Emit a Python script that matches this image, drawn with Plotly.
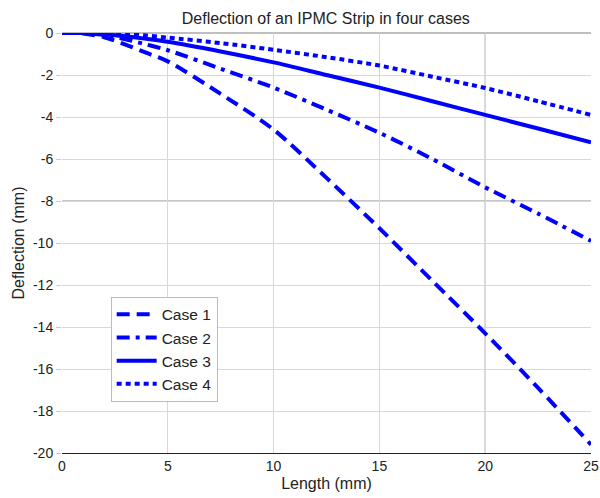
import plotly.graph_objects as go

length_mm = [0, 1, 2, 3, 4, 5, 7.5, 10, 12.5, 15, 17.5, 20, 22.5, 25]
case1 = [0, -0.02, -0.2, -0.55, -0.95, -1.35, -2.9, -4.6, -6.9, -9.3, -11.8, -14.3, -16.9, -19.6]
case2 = [0, 0, -0.1, -0.3, -0.55, -0.82, -1.7, -2.6, -3.65, -4.75, -6.0, -7.35, -8.6, -9.9]
case3 = [0, 0, -0.06, -0.16, -0.28, -0.42, -0.88, -1.4, -2.0, -2.6, -3.25, -3.9, -4.55, -5.2]
case4 = [0, 0, -0.02, -0.06, -0.12, -0.22, -0.48, -0.8, -1.15, -1.55, -2.08, -2.62, -3.25, -3.9]

series_names = ["Case 1", "Case 2", "Case 3", "Case 4"]
x_ticks = [0, 5, 10, 15, 20, 25]
y_ticks = [0, -2, -4, -6, -8, -10, -12, -14, -16, -18, -20]
dark_x = [20]
dark_y = [-8]

dashes = ["13px,7px", "13px,6px,4px,6px", "solid", "5px,4px"]

fig = go.Figure()
for name, ys, d in zip(series_names, [case1, case2, case3, case4], dashes):
    fig.add_trace(go.Scatter(
        x=length_mm, y=ys, name=name, mode="lines",
        line=dict(color="#0000ff", width=4, dash=d, shape="spline", smoothing=0.8),
    ))

for xv in dark_x:
    fig.add_shape(type="line", xref="x", yref="y", x0=xv, x1=xv, y0=-20, y1=0,
                  line=dict(color="#8c8c8c", width=1), layer="below")
for yv in dark_y:
    fig.add_shape(type="line", xref="x", yref="y", x0=0, x1=25, y0=yv, y1=yv,
                  line=dict(color="#8c8c8c", width=1), layer="below")

font_family = "Liberation Sans, Arial, sans-serif"
fig.update_layout(
    width=600, height=498,
    margin=dict(l=62, r=9, t=33, b=45),
    paper_bgcolor="white", plot_bgcolor="white",
    font=dict(family=font_family, size=14, color="#222"),
    title=dict(text="Deflection of an IPMC Strip in four cases", x=0.543, xanchor="center",
               y=0.964, yanchor="middle", font=dict(size=16, color="#222")),
    showlegend=True,
    legend=dict(x=0.092, y=0.372, xanchor="left", yanchor="top",
                bgcolor="white", bordercolor="#bbbbbb", borderwidth=1,
                font=dict(size=15.5, color="#222"), tracegroupgap=0, itemwidth=40),
    xaxis=dict(range=[0, 25], tickvals=x_ticks, ticktext=[str(v) for v in x_ticks],
               showgrid=True, gridcolor="#d8d8d8", gridwidth=1, zeroline=False,
               showline=True, linecolor="#222", linewidth=1, automargin=False,
               ticks="", tickfont=dict(size=14),
               title=dict(text="Length (mm)", font=dict(size=16), standoff=5)),
    yaxis=dict(range=[-20, 0], tickvals=y_ticks, ticktext=[str(v) for v in y_ticks],
               showgrid=True, gridcolor="#d8d8d8", gridwidth=1, zeroline=False,
               showline=False, ticks="outside", ticklen=5, tickcolor="#cccccc",
               tickfont=dict(size=14), automargin=False,
               title=dict(text="Deflection (mm)", font=dict(size=16), standoff=4)),
)
fig.add_shape(type="line", xref="paper", yref="paper", x0=0, x1=1, y0=1, y1=1,
              line=dict(color="#aaaaaa", width=1.5), layer="below")

fig.write_html("out.html")
